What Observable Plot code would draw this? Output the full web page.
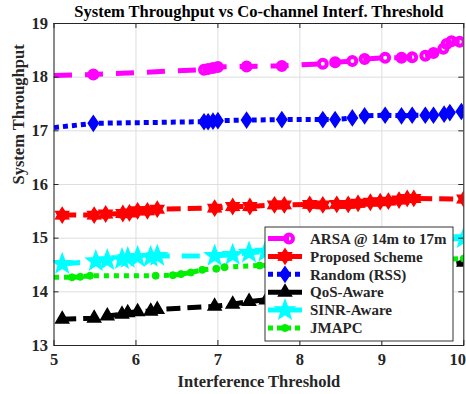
<!DOCTYPE html>
<html><head><meta charset="utf-8">
<script src="https://cdn.jsdelivr.net/npm/d3@7"></script>
<script src="https://cdn.jsdelivr.net/npm/@observablehq/plot@0.6"></script>
<style>
body{margin:0;background:#fff;}
#wrap{position:relative;width:466px;height:394px;}
#wrap svg{position:absolute;left:0;top:0;}
</style></head><body><div id="wrap"></div>
<script>
// ---- data ----
const titleText = "System Throughput vs Co-channel Interf. Threshold";
const xLabel = "Interference Threshold";
const yLabel = "System Throughput";
const xTicks = [5, 6, 7, 8, 9, 10];
const yTicks = [13, 14, 15, 16, 17, 18, 19];
const seriesNames = ["ARSA @ 14m to 17m", "Proposed Scheme", "Random (RSS)", "QoS-Aware", "SINR-Aware", "JMAPC"];

const arsaX = [5.0, 5.48, 6.83, 6.88, 6.94, 7.0, 7.35, 7.78, 8.28, 8.43, 8.64, 8.79, 9.04, 9.24, 9.37, 9.53, 9.63, 9.75, 9.79, 9.85, 9.95];
const arsaY = [18.03, 18.05, 18.14, 18.15, 18.17, 18.19, 18.20, 18.21, 18.25, 18.28, 18.30, 18.34, 18.36, 18.36, 18.37, 18.40, 18.45, 18.53, 18.62, 18.67, 18.66];

const propX = [5.10, 5.49, 5.63, 5.84, 5.92, 6.02, 6.14, 6.26, 6.96, 7.18, 7.39, 7.69, 7.81, 8.12, 8.28, 8.45, 8.59, 8.71, 8.86, 8.98, 9.08, 9.21, 9.31, 9.39, 10.0];
const propY = [15.43, 15.43, 15.45, 15.46, 15.47, 15.51, 15.51, 15.54, 15.56, 15.59, 15.59, 15.62, 15.62, 15.63, 15.62, 15.63, 15.63, 15.65, 15.67, 15.68, 15.69, 15.71, 15.74, 15.74, 15.73];

const randX = [5.0, 5.48, 6.83, 6.88, 6.94, 7.0, 7.35, 7.78, 8.28, 8.43, 8.64, 8.79, 9.04, 9.24, 9.37, 9.53, 9.63, 9.76, 9.83, 9.97];
const randY = [17.06, 17.14, 17.17, 17.17, 17.18, 17.19, 17.20, 17.21, 17.21, 17.21, 17.24, 17.28, 17.29, 17.28, 17.29, 17.29, 17.29, 17.31, 17.34, 17.36];

const qosX = [5.10, 5.49, 5.65, 5.83, 5.90, 6.02, 6.18, 6.26, 6.96, 7.18, 7.38, 7.59, 10.0];
const qosY = [13.49, 13.51, 13.55, 13.58, 13.61, 13.63, 13.64, 13.67, 13.73, 13.77, 13.82, 13.85, 14.55];

const sinrX = [5.10, 5.51, 5.65, 5.83, 5.90, 6.02, 6.18, 6.26, 6.96, 7.18, 7.38, 7.58, 10.0];
const sinrY = [14.52, 14.57, 14.59, 14.61, 14.63, 14.65, 14.65, 14.67, 14.67, 14.69, 14.73, 14.75, 15.0];

const jmapcX = [5.0, 5.22, 5.32, 5.44, 6.24, 6.45, 6.55, 6.67, 6.81, 6.98, 7.08, 7.51, 10.0];
const jmapcY = [14.27, 14.27, 14.28, 14.30, 14.30, 14.31, 14.33, 14.36, 14.41, 14.43, 14.46, 14.49, 14.62];

// ---- symbols ----
const mkSym = verts => ({draw(ctx, size){const R = Math.sqrt(size/Math.PI); verts(R).forEach(([x,y],i)=> i ? ctx.lineTo(x,y) : ctx.moveTo(x,y)); ctx.closePath();}});
const starVerts = (n, ratio) => R => d3.range(2*n).map(i => {const a = Math.PI*i/n - Math.PI/2; const rr = i%2 ? R*ratio : R; return [rr*Math.cos(a), rr*Math.sin(a)];});
const hexagram = mkSym(starVerts(6, 0.6));
const pentagram = mkSym(starVerts(5, 0.42));
const diamondSym = mkSym(R => [[0,-R],[R*0.68,0],[0,R],[-R*0.68,0]]);
const triangleSym = mkSym(R => [[0,-R],[R*0.866,R*0.5],[-R*0.866,R*0.5]]);

const series = [
  {name: seriesNames[0], xs: arsaX, ys: arsaY, color: "#ff00ff", dash: "18,13", skipFirst: true,
   sym: "circle", r: 4, fill: "none", sw: 4},
  {name: seriesNames[1], xs: propX, ys: propY, color: "#ff0000", dash: "14,7", skipFirst: false,
   sym: hexagram, r: 7.5, fill: "#ff0000", sw: 1.5},
  {name: seriesNames[2], xs: randX, ys: randY, color: "#0000ff", dash: "5,4", skipFirst: true,
   sym: diamondSym, r: 7.5, fill: "#0000ff", sw: 1.5},
  {name: seriesNames[3], xs: qosX, ys: qosY, color: "#000000", dash: "14,7", skipFirst: false,
   sym: triangleSym, r: 7.5, fill: "#000000", sw: 1.5},
  {name: seriesNames[4], xs: sinrX, ys: sinrY, color: "#00ffff", dash: "18,12", skipFirst: false,
   sym: pentagram, r: 10, fill: "#00ffff", sw: 1.5},
  {name: seriesNames[5], xs: jmapcX, ys: jmapcY, color: "#00f000", dash: "5,5", skipFirst: true,
   sym: "circle", r: 3.5, fill: "#00f000", sw: 1}
];

const W = 466, H = 394, mL = 53.5, mR = 2.7, mT = 23, mB = 49;
const pW = W - mL - mR, pH = H - mT - mB;
const font = "'Liberation Serif', 'Times New Roman', serif";
const ink = "#262626";

const marks = [
  Plot.gridX(xTicks, {stroke: "#dedede", strokeOpacity: 1}),
  Plot.gridY(yTicks, {stroke: "#dedede", strokeOpacity: 1})
];
for (const s of series) {
  const pts = s.xs.map((x, i) => ({x, y: s.ys[i]}));
  marks.push(Plot.line(pts, {x: "x", y: "y", stroke: s.color, strokeWidth: 5, strokeDasharray: s.dash, strokeLinecap: "butt", clip: true}));
  marks.push(Plot.dot(s.skipFirst ? pts.slice(1) : pts, {x: "x", y: "y", symbol: s.sym, r: s.r, fill: s.fill, stroke: s.color, strokeWidth: s.sw, clip: true}));
}
const lastX = xTicks[xTicks.length - 1];
marks.push(
  Plot.frame({stroke: ink}),
  Plot.ruleX(xTicks, {x: d => d, insetTop: pH - 5, stroke: ink}),
  Plot.ruleX(xTicks, {x: d => d, insetBottom: pH - 5, stroke: ink}),
  Plot.ruleY(yTicks, {y: d => d, insetRight: pW - 5, stroke: ink}),
  Plot.ruleY(yTicks, {y: d => d, insetLeft: pW - 5, stroke: ink}),
  Plot.text(xTicks.filter(d => d !== lastX), {x: d => d, text: d => String(d), frameAnchor: "bottom", dy: 8, lineAnchor: "top", fontSize: 16.5, fill: ink}),
  Plot.text([lastX], {x: d => d, text: d => String(d), frameAnchor: "bottom", dy: 8, dx: -6, lineAnchor: "top", fontSize: 16.5, fill: ink}),
  Plot.axisY(yTicks, {tickSize: 0, tickPadding: 6, fontSize: 16.5, label: null, tickFormat: d => String(d), fill: ink}),
  Plot.text([xLabel], {frameAnchor: "bottom", dy: 41, lineAnchor: "bottom", fontSize: 16.5, fill: ink}),
  Plot.text([yLabel], {frameAnchor: "left", dx: -30, rotate: -90, lineAnchor: "bottom", fontSize: 16.5, fill: ink}),
  Plot.text([titleText], {frameAnchor: "top", dy: -7, lineAnchor: "bottom", fontSize: 16.5, fill: "#000"})
);

const chart = Plot.plot({
  width: W, height: H, marginLeft: mL, marginRight: mR, marginTop: mT, marginBottom: mB,
  x: {domain: [5, 10], axis: null}, y: {domain: [13, 19]},
  style: {fontFamily: font, fontWeight: "bold", background: "white", overflow: "visible"},
  marks
});
const wrap = document.getElementById("wrap");
wrap.appendChild(chart);

// ---- legend overlay ----
const lg = d3.select(wrap).append("svg").attr("width", W).attr("height", H).style("pointer-events", "none");
const bx = 265, by = 227, bw = 188, bh = 114, row0 = 238.5, rowStep = 17.9;
lg.append("rect").attr("x", bx).attr("y", by).attr("width", bw).attr("height", bh)
  .attr("fill", "white").attr("stroke", "#333").attr("stroke-width", 1);
series.forEach((s, i) => {
  const cy = row0 + i * rowStep;
  const g = lg.append("g");
  const lineEnd = i === 0 ? 289 : 302;
  const mx = i === 0 ? 289 : 285;
  g.append("line").attr("x1", 268).attr("x2", lineEnd).attr("y1", cy).attr("y2", cy)
    .attr("stroke", s.color).attr("stroke-width", 5).attr("stroke-dasharray", i === 2 || i === 5 ? "5,4" : null);
  const symType = s.sym === "circle" ? d3.symbolCircle : s.sym;
  g.append("path").attr("transform", `translate(${mx},${cy})`)
    .attr("d", d3.symbol().type(symType).size(s.r * s.r * Math.PI)())
    .attr("fill", s.fill).attr("stroke", s.color).attr("stroke-width", s.sw);
  g.append("text").attr("x", 310).attr("y", cy + 5.2).text(s.name)
    .attr("font-family", font).attr("font-weight", "bold").attr("font-size", 15).attr("fill", ink);
});
</script></body></html>
